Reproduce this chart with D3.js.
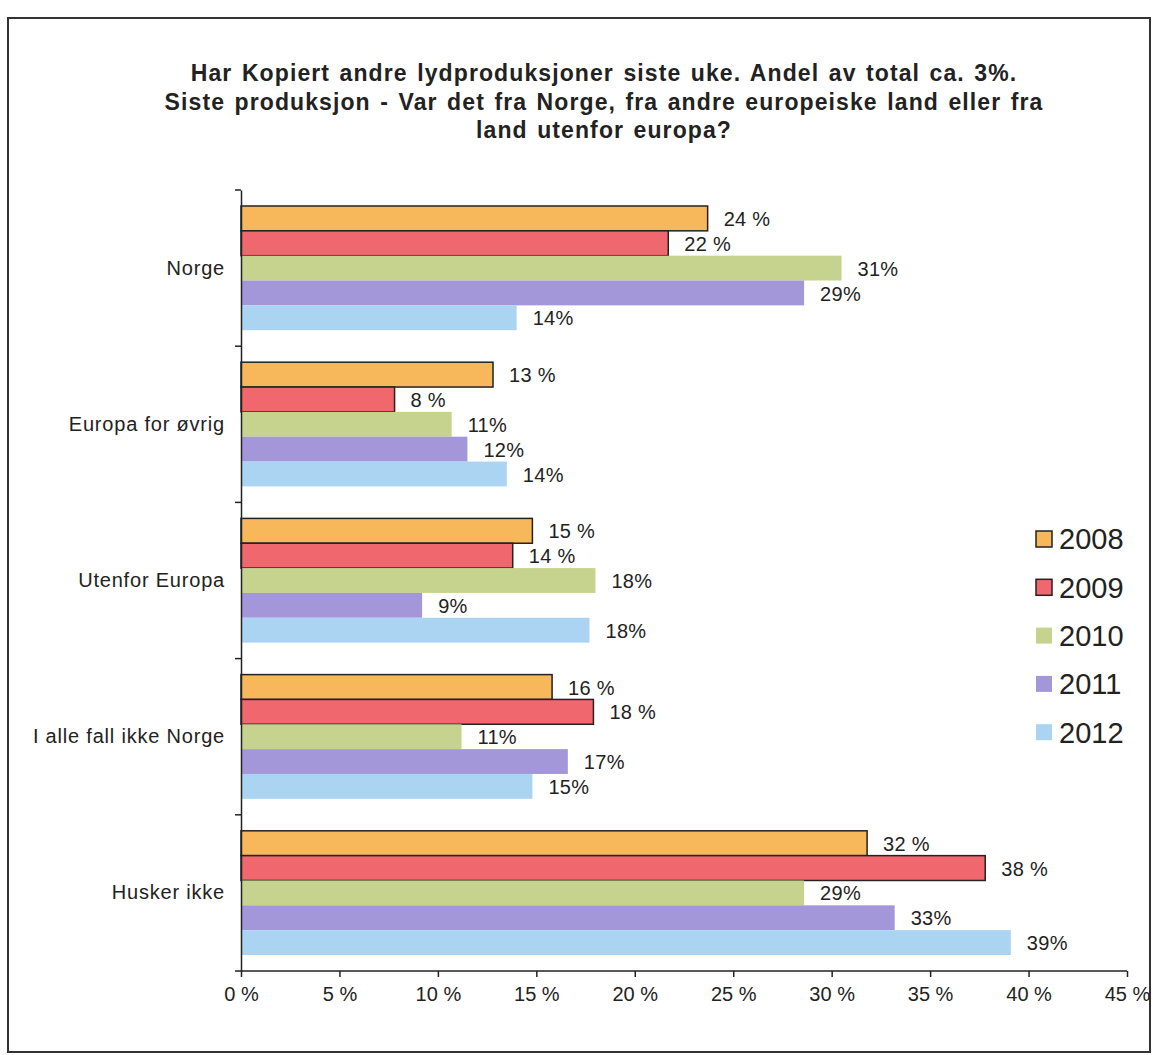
<!DOCTYPE html>
<html><head><meta charset="utf-8">
<script src="https://cdn.jsdelivr.net/npm/d3@7"></script>
<style>body{margin:0;background:#fff}svg{display:block}text{font-family:"Liberation Sans",Arial,sans-serif;fill:#222}</style>
</head><body>
<script>
const categories = ["Norge","Europa for øvrig","Utenfor Europa","I alle fall ikke Norge","Husker ikke"];
const years = ["2008","2009","2010","2011","2012"];
const v2008 = [23.7, 12.8, 14.8, 15.8, 31.8];
const v2009 = [21.7, 7.8, 13.8, 17.9, 37.8];
const v2010 = [30.5, 10.7, 18.0, 11.2, 28.6];
const v2011 = [28.6, 11.5, 9.2, 16.6, 33.2];
const v2012 = [14.0, 13.5, 17.7, 14.8, 39.1];
const l2008 = ["24 %","13 %","15 %","16 %","32 %"];
const l2009 = ["22 %","8 %","14 %","18 %","38 %"];
const l2010 = ["31%","11%","18%","11%","29%"];
const l2011 = ["29%","12%","9%","17%","33%"];
const l2012 = ["14%","14%","18%","15%","39%"];
const xTicks = [0,5,10,15,20,25,30,35,40,45];
const xTickLabels = ["0 %","5 %","10 %","15 %","20 %","25 %","30 %","35 %","40 %","45 %"];
const titleLines = ["Har Kopiert andre lydproduksjoner siste uke. Andel av total ca. 3%.",
  "Siste produksjon - Var det fra Norge, fra andre europeiske land eller fra",
  "land utenfor europa?"];
const colors = ["#F7B75B","#F0686E","#C6D38F","#A397D9","#AAD4F1"];
const outlined = [true,true,false,false,false];

const values = [v2008,v2009,v2010,v2011,v2012];
const labels = [l2008,l2009,l2010,l2011,l2012];

const W=1153,H=1055;
const FF='"Liberation Sans",Arial,sans-serif';
const svg=d3.select("body").append("svg").attr("width",W).attr("height",H);
svg.append("rect").attr("x",8).attr("y",18).attr("width",1142).attr("height",1034)
  .attr("fill","none").attr("stroke","#333").attr("stroke-width",2);

const tg=svg.append("g").attr("font-weight","bold").attr("font-size",23).attr("text-anchor","middle")
  .attr("letter-spacing",1.1).attr("word-spacing",2);
titleLines.forEach((t,i)=>tg.append("text").attr("x",604).attr("y",81+i*28.5).text(t));

const x=d3.scaleLinear().domain([0,45]).range([241,1127]);
const y=d3.scaleBand().domain(categories).range([190,971]);
const yi=d3.scaleBand().domain(years).range([16,y.bandwidth()-16]);

categories.forEach((c,ci)=>{
  const g=svg.append("g").attr("transform",`translate(0,${y(c)})`);
  years.forEach((yr,k)=>{
    const v=values[k][ci];
    g.append("rect").attr("x",x(0)).attr("y",yi(yr)).attr("width",x(v)-x(0)).attr("height",yi.bandwidth())
      .attr("fill",colors[k]).attr("stroke",outlined[k]?"#222":"none").attr("stroke-width",outlined[k]?1.5:0);
    g.append("text").attr("x",x(v)+16).attr("y",yi(yr)+yi.bandwidth()/2).attr("dy","0.38em")
      .attr("font-size",20).attr("letter-spacing",0.3).text(labels[k][ci]);
  });
});

// y axis
const ya=svg.append("g").attr("transform",`translate(${x(0)},0)`)
  .call(d3.axisLeft(y).tickSize(0).tickPadding(16));
ya.select(".domain").attr("stroke","#222").attr("stroke-width",1.5);
ya.selectAll(".tick text").attr("font-size",20).attr("letter-spacing",0.8).attr("fill","#222").style("font-family",FF);
const bounds=categories.map(c=>y(c)).concat([y.range()[1]]);
svg.append("g").selectAll("line").data(bounds).join("line")
  .attr("x1",x(0)-6).attr("x2",x(0)).attr("y1",d=>d).attr("y2",d=>d).attr("stroke","#222").attr("stroke-width",1.5);

// x axis
const xa=svg.append("g").attr("transform","translate(0,971)")
  .call(d3.axisBottom(x).tickValues(xTicks).tickSize(6).tickPadding(10).tickFormat((d,i)=>xTickLabels[i]));
xa.select(".domain").attr("stroke","#222").attr("stroke-width",1.5).attr("d",`M${x(0)},0H${x(45)}`);
xa.selectAll(".tick line").attr("stroke","#222").attr("stroke-width",1.5);
xa.selectAll(".tick text").attr("font-size",20).attr("fill","#222").style("font-family",FF);

// legend
const lg=svg.append("g");
years.forEach((yr,k)=>{
  const cy=539+k*48.3;
  lg.append("rect").attr("x",1036).attr("y",cy-8).attr("width",16).attr("height",16)
    .attr("fill",colors[k]).attr("stroke",outlined[k]?"#222":"none").attr("stroke-width",outlined[k]?1.5:0);
  lg.append("text").attr("x",1059).attr("y",cy).attr("dy","0.36em").attr("font-size",29).text(yr);
});
</script>
</body></html>
